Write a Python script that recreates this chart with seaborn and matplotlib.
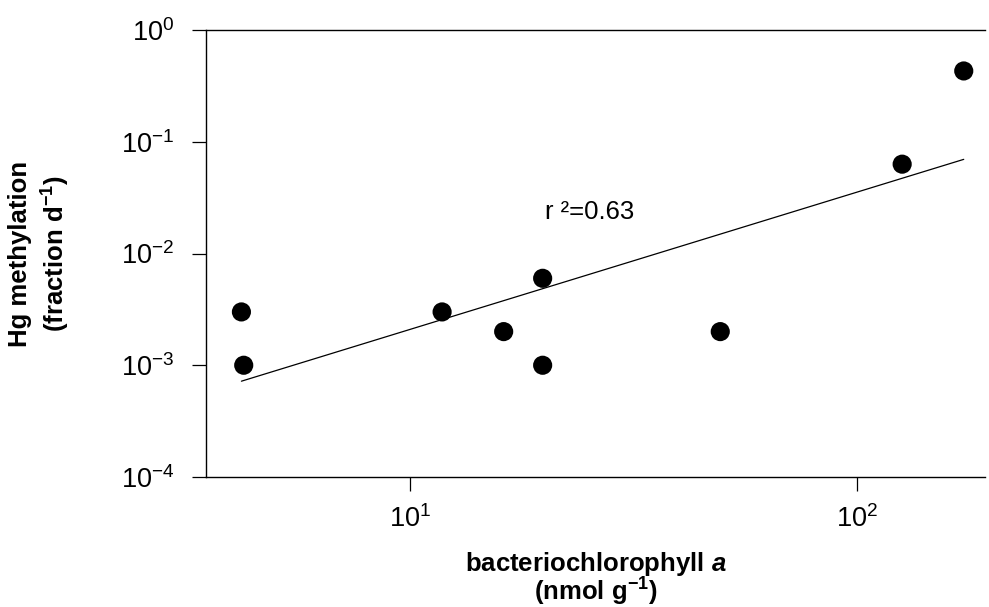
import numpy as np
import pandas as pd
import matplotlib
matplotlib.use("Agg")
import matplotlib.pyplot as plt
import seaborn as sns
from matplotlib.ticker import LogLocator, NullLocator

sns.set_style("white")
plt.rcParams['font.family'] = ['Liberation Sans', 'DejaVu Sans']
plt.rcParams['mathtext.fontset'] = 'custom'
plt.rcParams['mathtext.rm'] = 'Liberation Sans'
plt.rcParams['mathtext.bf'] = 'Liberation Sans:bold'
plt.rcParams['mathtext.it'] = 'Liberation Sans:italic:bold'
plt.rcParams['text.color'] = 'black'
plt.rcParams['axes.labelcolor'] = 'black'
plt.rcParams['xtick.color'] = 'black'
plt.rcParams['ytick.color'] = 'black'

# ------------------------------
# Data
# ------------------------------
bchl = [4.2, 4.25, 11.8, 16.2, 19.8, 19.8, 49.4, 126, 173]
hg_meth = [0.003, 0.001, 0.003, 0.002, 0.006, 0.001, 0.002, 0.063, 0.43]

df = pd.DataFrame({"bchl": bchl, "meth": hg_meth})

# least squares fit in log-log space
slope, intercept = np.polyfit(np.log10(df["bchl"]), np.log10(df["meth"]), 1)
fit_x = np.array([df["bchl"].min(), df["bchl"].max()])
fit_y = 10 ** (intercept + slope * np.log10(fit_x))

# ------------------------------
# Figure
# ------------------------------
fig = plt.figure(figsize=(9.89, 6.07), dpi=100)
ax = fig.add_axes([206 / 989, 1 - 477 / 607, (985 - 206) / 989, (477 - 30) / 607])

sns.scatterplot(data=df, x="bchl", y="meth", color="black", s=190,
                edgecolor="none", ax=ax, zorder=3)
sns.lineplot(x=fit_x, y=fit_y, color="black", linewidth=0.9, ax=ax, zorder=2)

ax.set_xscale("log")
ax.set_yscale("log")
ax.set_xlim(3.5, 193)
ax.set_ylim(1e-4, 1)

ax.xaxis.set_major_locator(LogLocator(base=10, numticks=10))
ax.yaxis.set_major_locator(LogLocator(base=10, numticks=10))
ax.xaxis.set_minor_locator(NullLocator())
ax.yaxis.set_minor_locator(NullLocator())

ax.tick_params(axis="both", direction="out", length=10, width=0.9,
               color="black", labelsize=19.5, labelcolor="black",
               bottom=True, left=True)
ax.tick_params(axis="y", pad=13)
ax.tick_params(axis="x", pad=10)

for side in ["top", "bottom", "left"]:
    ax.spines[side].set_visible(True)
    ax.spines[side].set_color("black")
    ax.spines[side].set_linewidth(1.0)
ax.spines["right"].set_visible(False)

ax.text(20.0, 0.0235, "r ²=0.63", fontsize=18.5, ha="left", va="center")

ax.set_xlabel("bacteriochlorophyll $\\mathit{a}$\n(nmol g$^{\\mathbf{-1}}$)",
              fontsize=18.5, fontweight="bold", linespacing=0.9)
ax.set_ylabel("Hg methylation\n(fraction d$^{\\mathbf{-1}}$)",
              fontsize=18.5, fontweight="bold", linespacing=1.3)
ax.xaxis.set_label_coords(0.5, -0.163)
ax.yaxis.set_label_coords(-0.172, 0.5)

fig.savefig("out.png", dpi=100)
